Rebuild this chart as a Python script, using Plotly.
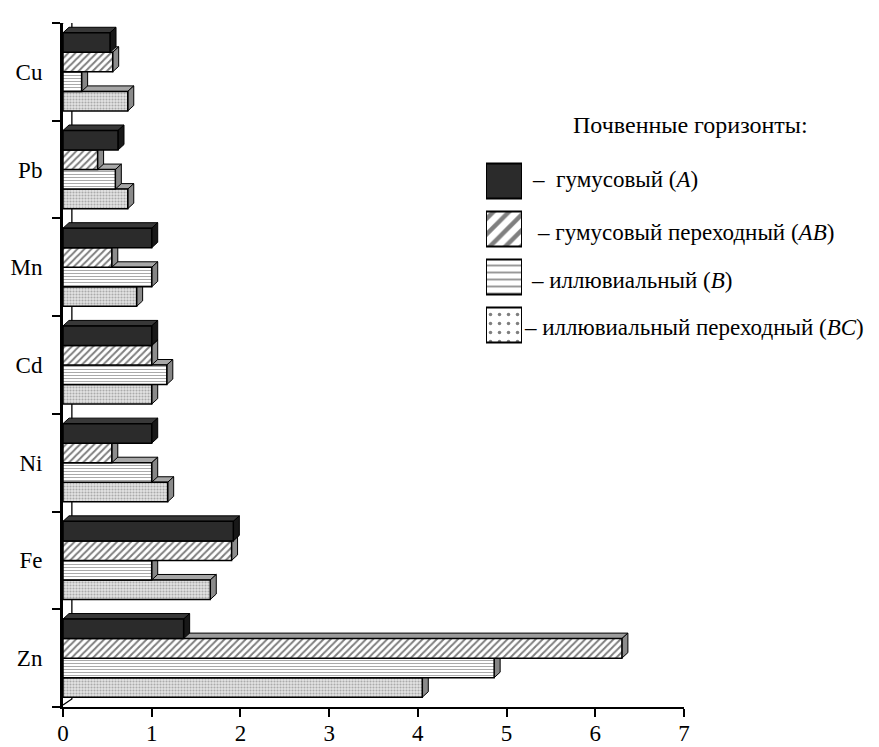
import plotly.graph_objects as go

# ---- data ----
elements = ["Zn", "Fe", "Ni", "Cd", "Mn", "Pb", "Cu"]          # bottom -> top
val_A  = [1.36, 1.92, 1.00, 1.00, 1.00, 0.62, 0.53]            # гумусовый (A)
val_AB = [6.30, 1.90, 0.55, 1.00, 0.55, 0.39, 0.56]            # гумусовый переходный (AB)
val_B  = [4.86, 1.00, 1.00, 1.17, 1.00, 0.59, 0.21]            # иллювиальный (B)
val_BC = [4.05, 1.66, 1.18, 1.00, 0.83, 0.73, 0.73]            # иллювиальный переходный (BC)
x_ticks = [0, 1, 2, 3, 4, 5, 6, 7]

legend_title = "Почвенные горизонты:"
legend_texts = [
    "–  гумусовый (<i>A</i>)",
    "– гумусовый переходный (<i>AB</i>)",
    "– иллювиальный (<i>B</i>)",
    "– иллювиальный переходный (<i>BC</i>)",
]

FONT = "Liberation Serif"
OFF = 8   # page body margin
W, H = 879 - OFF, 747 - OFF
ML, MR, MT, MB = 63 - OFF, 195, 23 - OFF, 40
PW, PH = W - ML - MR, H - MT - MB

ypos = list(range(len(elements)))
bw = 0.2
dx = 6.0 / (PW / 7.0)
dy = 5.5 / (PH / 7.0)

series = [
    dict(name="BC", vals=val_BC, fill="#dcdcdc",
         pattern=dict(shape=".", size=3, solidity=0.4, fgcolor="#707070", bgcolor="#e4e4e4"),
         side="#8a8a8a", top="#a6a6a6"),
    dict(name="B", vals=val_B, fill="white",
         pattern=dict(shape="-", size=3, solidity=0.35, fgcolor="#555555", bgcolor="white"),
         side="#858585", top="#a8a8a8"),
    dict(name="AB", vals=val_AB, fill="white",
         pattern=dict(shape="/", size=5, solidity=0.4, fgcolor="black", bgcolor="white"),
         side="#8c8c8c", top="#9c9c9c"),
    dict(name="A", vals=val_A, fill="#2b2b2b", pattern=None,
         side="#181818", top="#383838"),
]

fig = go.Figure()
for k, s in enumerate(series):
    marker = dict(color=s["fill"], line=dict(color="black", width=1.5))
    if s["pattern"]:
        marker["pattern"] = s["pattern"]
    fig.add_trace(go.Bar(y=ypos, x=s["vals"], orientation="h", width=bw,
                         offset=-0.4 + bw * k, marker=marker, showlegend=False,
                         name=s["name"], hoverinfo="x+name"))

shapes = []
wall_dx = 0.1
wall_dy = 8.0 / (PH / 7.0)
ytop, ybot = ypos[-1] + 0.5, ypos[0] - 0.5
shapes.append(dict(type="path", xref="x", yref="y", layer="below",
                   path=f"M 0,{ytop} L {wall_dx},{ytop + wall_dy} L {wall_dx},{ybot + wall_dy} L 0,{ybot + 0.02}",
                   line=dict(color="black", width=1.3), fillcolor="rgba(0,0,0,0)"))
for i in ypos:
    for k, s in enumerate(series):
        v = s["vals"][i]
        y0 = i - 0.4 + bw * k
        y1 = y0 + bw
        shapes.append(dict(type="path", xref="x", yref="y", layer="below",
                           path=f"M 0,{y1} L {v},{y1} L {v + dx},{y1 + dy} L {dx},{y1 + dy} Z",
                           fillcolor=s["top"], line=dict(color="black", width=1)))
        shapes.append(dict(type="path", xref="x", yref="y", layer="below",
                           path=f"M {v},{y0} L {v + dx},{y0 + dy} L {v + dx},{y1 + dy} L {v},{y1} Z",
                           fillcolor=s["side"], line=dict(color="black", width=1)))

def px2paper_x(px):
    return (px - OFF - ML) / PW

def px2paper_y(py):
    return (H - MB - (py - OFF)) / PH

sw_pos = [3, 2, 1, 0]
sw_styles = [
    dict(color="#2b2b2b"),
    dict(color="white", pattern=dict(shape="/", size=11, solidity=0.4, fgcolor="black", bgcolor="white")),
    dict(color="white", pattern=dict(shape="-", size=7, solidity=0.28, fgcolor="#333333", bgcolor="white")),
    dict(color="white", pattern=dict(shape=".", size=9, solidity=0.12, fgcolor="black", bgcolor="white")),
]
for p, st in zip(sw_pos, sw_styles):
    m = dict(st)
    m["line"] = dict(color="black", width=2)
    fig.add_trace(go.Bar(y=[p], x=[1], orientation="h", width=0.73, marker=m,
                         xaxis="x2", yaxis="y2", showlegend=False, hoverinfo="skip"))

annotations = [dict(text=legend_title, xref="paper", yref="paper",
                    x=px2paper_x(690), y=px2paper_y(125), xanchor="center", yanchor="middle",
                    showarrow=False, font=dict(family=FONT, size=24, color="black"))]
leg_xy = [(530, 180), (535, 233), (529, 280), (522, 327)]
for t, (lx, ly) in zip(legend_texts, leg_xy):
    annotations.append(dict(text=t, xref="paper", yref="paper",
                            x=px2paper_x(lx), y=px2paper_y(ly), xanchor="left", yanchor="middle",
                            showarrow=False, font=dict(family=FONT, size=23, color="black")))

fig.update_layout(
    width=W, height=H,
    margin=dict(l=ML, r=MR, t=MT, b=MB, pad=0, autoexpand=False),
    paper_bgcolor="white", plot_bgcolor="white",
    font=dict(family=FONT, size=24, color="black"),
    barmode="overlay", showlegend=False,
    shapes=shapes, annotations=annotations,
    xaxis=dict(range=[0, 7], tickmode="array", tickvals=x_ticks, ticks="outside",
               ticklen=8, tickwidth=2, tickcolor="black", showline=True, linecolor="black",
               linewidth=2, showgrid=False, zeroline=False, automargin=False,
               ticklabelstandoff=-4,
               tickfont=dict(family=FONT, size=23)),
    yaxis=dict(range=[ybot, ytop], tickmode="array", tickvals=ypos, ticktext=elements,
               ticks="", showline=True, linecolor="black", linewidth=3, showgrid=False,
               zeroline=False, ticklabelstandoff=13, automargin=False,
               tickfont=dict(family=FONT, size=23),
               minor=dict(tickmode="array", tickvals=[p - 0.5 for p in ypos] + [ytop],
                          ticks="outside", ticklen=8, tickwidth=1.5, tickcolor="black",
                          showgrid=False)),
    xaxis2=dict(domain=[px2paper_x(486), px2paper_x(522)], range=[0, 1], anchor="y2",
                visible=False, fixedrange=True),
    yaxis2=dict(domain=[px2paper_y(349), px2paper_y(157)], range=[-0.5, 3.5], anchor="x2",
                visible=False, fixedrange=True),
)

fig.write_html("out.html")
